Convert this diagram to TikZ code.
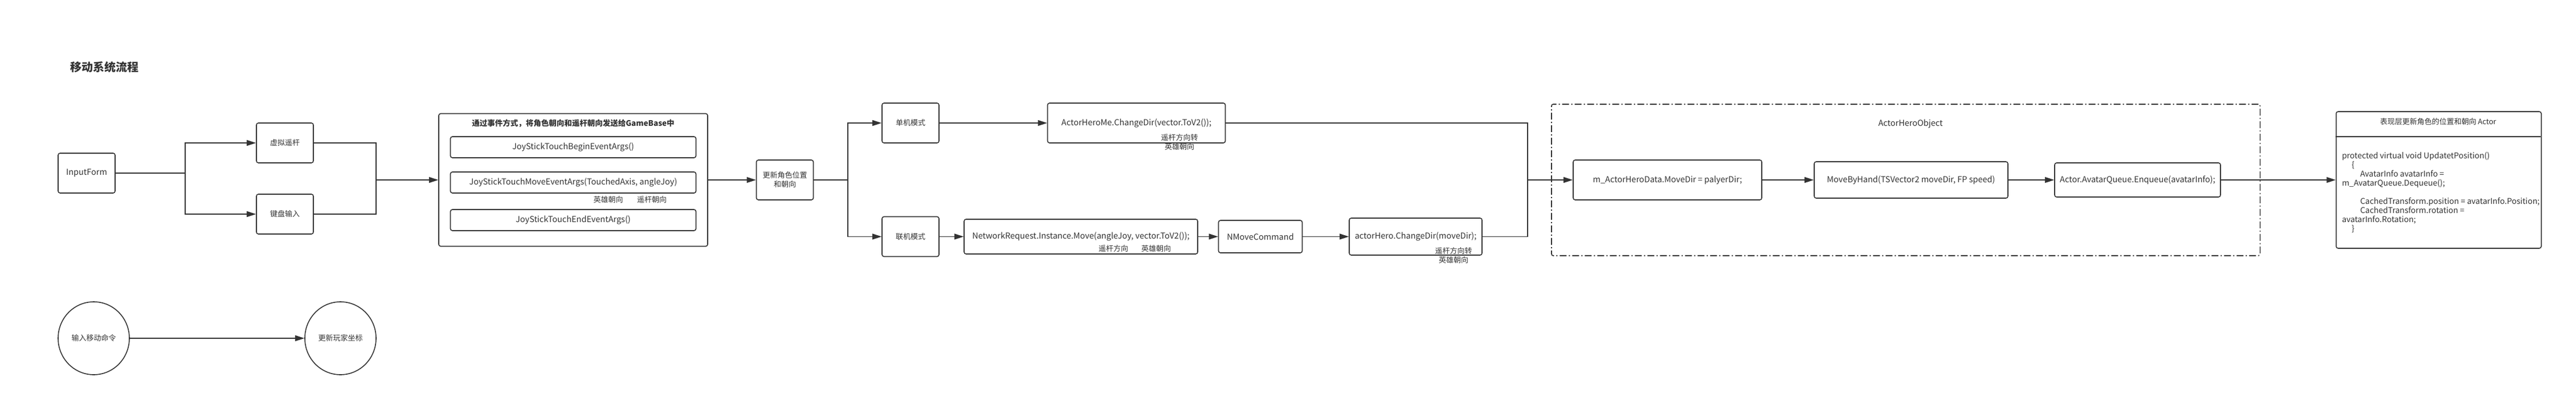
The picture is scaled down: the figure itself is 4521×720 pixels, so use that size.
\documentclass[tikz,border=0pt]{standalone}
\usepackage{fontspec}
\setmainfont{Noto Sans CJK SC}
\usetikzlibrary{arrows.meta,shapes.geometric}
\definecolor{ink}{HTML}{333333}
\tikzset{
  box/.style={draw=ink, line width=1.6pt, rounded corners=3.5pt, inner sep=0pt, align=center},
  zh/.style={font=\fontsize{13}{16}\selectfont},
  en/.style={font=\fontsize{14.5}{16}\selectfont},
  note/.style={font=\fontsize{13}{16}\selectfont, align=center, inner sep=0pt},
  wire/.style={draw=ink, line width=1.6pt},
  flow/.style={wire, -{Triangle[length=16pt,width=10pt]}},
  group/.style={draw=ink, line width=1.6pt, dash pattern=on 12pt off 4pt on 2pt off 4pt, rounded corners=3pt, inner sep=0pt},
}
\begin{document}
\begin{tikzpicture}[x=1pt,y=-1pt,every node/.append style={text=ink}]
    \fill[white] (0,0) rectangle (4521,720);
    \node[anchor=west, font=\bfseries\fontsize{20}{24}\selectfont] (title) at (120,118) {移动系统流程};

    \node[box, en, minimum width=100pt, minimum height=70pt] (inputform) at (152,304) {InputForm};
    \node[box, zh, minimum width=100pt, minimum height=70pt] (joystick) at (500,251) {虚拟遥杆};
    \node[box, zh, minimum width=100pt, minimum height=70pt] (keyboard) at (500,376) {键盘输入};
    \coordinate (fork1) at (325,304);
    \coordinate (merge1) at (660,316);
    \draw[wire] (inputform.east) -- (fork1);
    \draw[flow] (fork1) |- (joystick.west);
    \draw[flow] (fork1) |- (keyboard.west);
    \draw[wire] (joystick.east) -| (merge1);
    \draw[wire] (keyboard.east) -| (merge1);

    \node[box, minimum width=472pt, minimum height=233pt] (events) at (1006,316) {};
    \node[font=\bfseries\fontsize{13.5}{16}\selectfont] (eventstitle) at (1006,217) {通过事件方式，将角色朝向和遥杆朝向发送给GameBase中};
    \node[box, en, minimum width=431pt, minimum height=37pt] (beginargs) at (1006,258.5) {JoyStickTouchBeginEventArgs()};
    \node[box, en, minimum width=431pt, minimum height=37pt] (moveargs) at (1006,320.5) {JoyStickTouchMoveEventArgs(TouchedAxis, angleJoy)};
    \node[box, en, minimum width=431pt, minimum height=37pt] (endargs) at (1006,386.5) {JoyStickTouchEndEventArgs()};
    \node[note] (argsface) at (1067.5,351) {英雄朝向};
    \node[note] (argsstick) at (1144,351) {遥杆朝向};
    \draw[flow] (merge1) -- (events.west);

    \node[box, zh, minimum width=100pt, minimum height=70pt] (update) at (1377.5,316) {更新角色位置\\和朝向};
    \draw[flow] (events.east) -- (update.west);
    \coordinate (fork2) at (1488,316);
    \node[box, zh, minimum width=100pt, minimum height=70pt] (single) at (1598,216) {单机模式};
    \node[box, zh, minimum width=100pt, minimum height=70pt] (online) at (1598,415.5) {联机模式};
    \draw[wire] (update.east) -- (fork2);
    \draw[flow] (fork2) |- (single.west);
    \draw[flow] (fork2) |- (online.west);

    \node[box, en, minimum width=312pt, minimum height=70pt] (heromedir) at (1994.5,216) {ActorHeroMe.ChangeDir(vector.ToV2());};
    \node[note] (heromenote) at (2070,250) {遥杆方向转\\英雄朝向};
    \draw[flow] (single.east) -- (heromedir.west);

    \node[box, en, minimum width=410pt, minimum height=61pt] (request) at (1897,415.5) {NetworkRequest.Instance.Move(angleJoy, vector.ToV2());};
    \node[note] (requeststick) at (1954,437) {遥杆方向};
    \node[note] (requestface) at (2029,437) {英雄朝向};
    \draw[flow] (online.east) -- (request.west);

    \node[box, en, minimum width=147pt, minimum height=57pt] (nmove) at (2212,415.5) {NMoveCommand};
    \node[box, en, minimum width=233pt, minimum height=65pt] (herodir) at (2484.5,415.5) {actorHero.ChangeDir(moveDir);};
    \node[note] (herodirnote) at (2551,449) {遥杆方向转\\英雄朝向};
    \draw[flow] (request.east) -- (nmove.west);
    \draw[flow] (nmove.east) -- (herodir.west);

    \coordinate (join) at (2681,316);
    \draw[wire] (heromedir.east) -| (join);
    \draw[wire] (herodir.east) -| (join);

    \node[group, minimum width=1243.5pt, minimum height=266pt] (heroobject) at (3344.75,316) {};
    \node[en] (heroobjectlabel) at (3353,217) {ActorHeroObject};
    \node[box, en, minimum width=331pt, minimum height=70pt] (movedata) at (2926.5,316) {m\_ActorHeroData.MoveDir = palyerDir;};
    \node[box, en, minimum width=340pt, minimum height=64pt] (movehand) at (3354,316) {MoveByHand(TSVector2 moveDir, FP speed)};
    \node[box, en, minimum width=291pt, minimum height=60pt] (enqueue) at (3751.5,316) {Actor.AvatarQueue.Enqueue(avatarInfo);};
    \draw[flow] (join) -- (movedata.west);
    \draw[flow] (movedata.east) -- (movehand.west);
    \draw[flow] (movehand.east) -- (enqueue.west);

    \node[box, minimum width=360pt, minimum height=240pt] (actor) at (4280,316) {};
    \draw[wire] (actor.north west) ++(0,45) -- ++(360,0);
    \node[zh] (actorhead) at (4279,214) {表现层更新角色的位置和朝向 Actor};
    \node[anchor=north west, align=left, inner sep=0pt, font=\fontsize{14}{16}\selectfont] (actorcode) at (4110,267) {protected virtual void UpdatetPosition()\\
      \hspace*{17pt}\{\\
      \hspace*{32pt}AvatarInfo avatarInfo =\\
      m\_AvatarQueue.Dequeue();\\
      \mbox{}\\
      \hspace*{32pt}CachedTransform.position = avatarInfo.Position;\\
      \hspace*{32pt}CachedTransform.rotation =\\
      avatarInfo.Rotation;\\
      \hspace*{17pt}\}};
    \draw[flow] (enqueue.east) -- (actor.west);

    \node[ellipse, draw=ink, line width=1.6pt, zh, minimum width=125pt, minimum height=128pt, inner sep=0pt] (movecmd) at (164.5,594) {输入移动命令};
    \node[ellipse, draw=ink, line width=1.6pt, zh, minimum width=125pt, minimum height=128pt, inner sep=0pt] (playerpos) at (597.5,594) {更新玩家坐标};
    \draw[flow] (movecmd.east) -- (playerpos.west);
\end{tikzpicture}
\end{document}
